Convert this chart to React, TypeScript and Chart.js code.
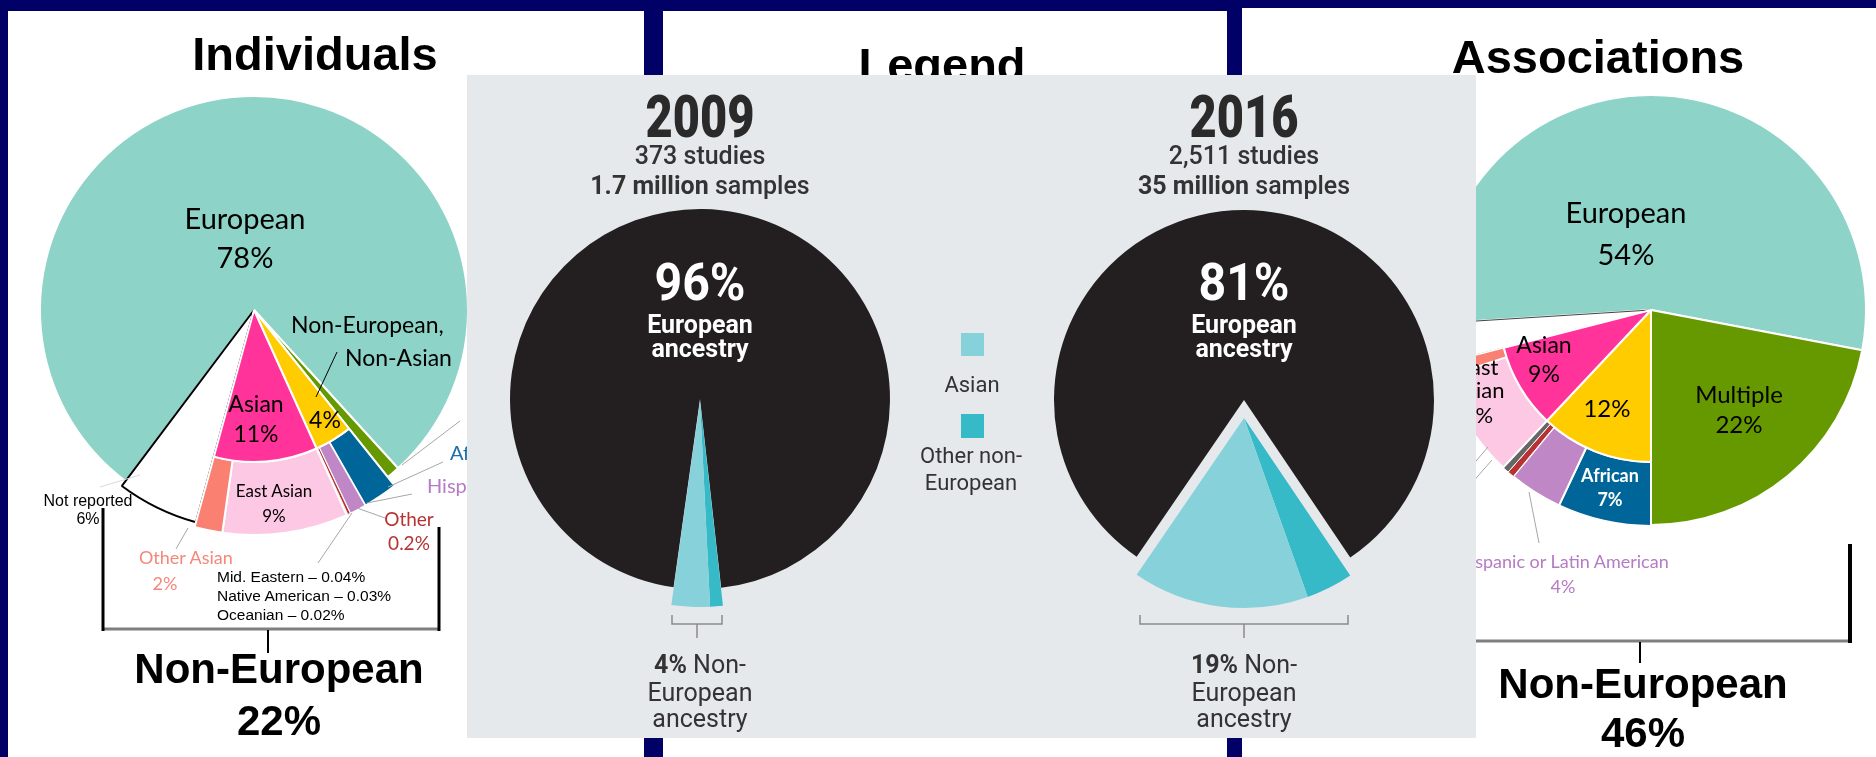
import React, { useEffect, useRef } from "react";
import { Chart, registerables } from "chart.js";
Chart.register(...registerables);

// ---------------- data ----------------
// Individuals (share of GWAS participants, %)
const indGroupLabels = ["European", "Multiple", "Non-European, Non-Asian", "Asian", "Not reported"];
const indGroupValues = [78, 1, 4, 11, 6];
const indSubLabels = ["European", "Multiple", "African", "Hispanic", "Other", "Mid. Eastern", "Native American", "Oceanian", "East Asian", "Other Asian", "Not reported"];
const indSubValues = [78, 1, 2.5, 1.2, 0.2, 0.04, 0.03, 0.02, 9, 2, 6];

// Associations (share of GWAS associations, %)
const assocGroupLabels = ["European", "Multiple", "Non-European, Non-Asian", "Asian", "Not reported"];
const assocGroupValues = [54, 22, 12, 9, 3];
const assocSubLabels = ["European", "Multiple", "African", "Hispanic or Latin American", "Other", "Other (minor)", "East Asian", "Other Asian", "Not reported"];
const assocSubValues = [54, 22, 7, 4, 0.5, 0.5, 8, 1, 3];

// Legend figure: 2009 vs 2016
const legendLabels = ["European", "Other non-European", "Asian"];
const values2009 = [96, 1, 3];
const values2016 = [81, 4, 15];

// ---------------- styles ----------------
const TR = "rgba(0,0,0,0)";
const TEAL = "#8dd3c7";
const GREEN = "#669900";
const YELLOW = "#ffcc00";
const PINK = "#ff3399";
const LPINK = "#fcc8e3";
const SALMON = "#fa8072";
const BLUE = "#006699";
const PURPLE = "#bf87c6";
const RED = "#b83232";
const BLACKPIE = "#231f20";
const LTEAL = "#86d1da";
const DTEAL = "#36bac7";

type LayerProps = {
  cx: number;
  cy: number;
  size: number;
  labels: string[];
  data: number[];
  colors: string[];
  borderColors: string[];
  borderWidths: number[];
  radius: number;
  inner?: number;
  rotation: number;
};

function PieLayer(p: LayerProps) {
  const ref = useRef<HTMLCanvasElement>(null);
  useEffect(() => {
    const chart = new Chart(ref.current as HTMLCanvasElement, {
      type: "doughnut",
      data: {
        labels: p.labels,
        datasets: [
          {
            data: p.data,
            backgroundColor: p.colors,
            borderColor: p.borderColors,
            borderWidth: p.borderWidths,
            hoverOffset: 0,
          } as any,
        ],
      },
      options: {
        responsive: false,
        animation: false,
        events: [],
        rotation: p.rotation,
        radius: p.radius,
        cutout: p.inner ? `${(p.inner / p.radius) * 100}%` : 0,
        layout: { padding: 0 },
        plugins: { legend: { display: false }, tooltip: { enabled: false } },
      } as any,
    });
    return () => chart.destroy();
  }, []);
  return (
    <canvas
      ref={ref}
      width={p.size}
      height={p.size}
      style={{ position: "absolute", left: p.cx - p.size / 2, top: p.cy - p.size / 2, width: p.size, height: p.size }}
    />
  );
}

const ARIAL = "'Liberation Sans', Arial, sans-serif";
const LATO = "Lato, 'Open Sans', sans-serif";
const ROBOTO = "Roboto, 'Liberation Sans', sans-serif";

const svgStyle: React.CSSProperties = { position: "absolute", left: 0, top: 0 };

function Txt(props: {
  x: number;
  y: number;
  size: number;
  fam?: string;
  fill?: string;
  weight?: string | number;
  anchor?: "start" | "middle" | "end";
  len?: number;
  children: React.ReactNode;
}) {
  const extra: any = {};
  if (props.len) {
    extra.textLength = props.len;
    extra.lengthAdjust = "spacingAndGlyphs";
  }
  return (
    <text
      x={props.x}
      y={props.y}
      fontSize={props.size}
      fontFamily={props.fam || LATO}
      fill={props.fill || "#000"}
      fontWeight={props.weight || "normal"}
      textAnchor={props.anchor || "middle"}
      {...extra}
    >
      {props.children}
    </text>
  );
}

export default function App() {
  const indC = { cx: 254, cy: 310 };
  const asC = { cx: 1651, cy: 310 };
  const indRot = 216.9;
  const asRot = 266.4;

  return (
    <div style={{ position: "absolute", left: 0, top: 0, width: 1876, height: 757, overflow: "hidden", background: "#000066" }}>
      {/* panels */}
      <svg width={1876} height={757} style={svgStyle}>
        <rect x={8} y={11} width={636} height={746} fill="#fff" />
        <rect x={663} y={11} width={564} height={746} fill="#fff" />
        <rect x={1242} y={8} width={634} height={749} fill="#fff" />
      </svg>

      {/* Individuals pie layers */}
      <PieLayer {...indC} size={470} labels={indGroupLabels} data={indGroupValues} rotation={indRot} radius={214}
        colors={[TEAL, GREEN, TR, TR, TR]} borderColors={["#fff", "#fff", TR, TR, TR]} borderWidths={[2, 2, 0, 0, 0]} />
      <PieLayer {...indC} size={470} labels={indGroupLabels} data={indGroupValues} rotation={indRot} radius={220}
        colors={[TR, TR, TR, TR, "#fff"]} borderColors={[TR, TR, TR, TR, "#000"]} borderWidths={[0, 0, 0, 0, 2]} />
      <PieLayer {...indC} size={470} labels={indSubLabels} data={indSubValues} rotation={indRot} radius={225} inner={152}
        colors={[TR, TR, BLUE, PURPLE, RED, "#333", "#333", "#333", LPINK, SALMON, TR]}
        borderColors={[TR, TR, "#fff", "#fff", "#fff", "#fff", "#fff", "#fff", "#fff", "#fff", TR]}
        borderWidths={[0, 0, 2, 1.5, 1, 0.6, 0.6, 0.6, 2, 2, 0]} />
      <PieLayer {...indC} size={470} labels={indGroupLabels} data={indGroupValues} rotation={indRot} radius={152}
        colors={[TR, TR, YELLOW, PINK, TR]} borderColors={[TR, TR, "#fff", "#fff", TR]} borderWidths={[0, 0, 2, 2, 0]} />

      {/* Associations pie layers */}
      <PieLayer {...asC} size={450} labels={assocGroupLabels} data={assocGroupValues} rotation={asRot} radius={215}
        colors={[TEAL, GREEN, TR, TR, TR]} borderColors={["#fff", "#fff", TR, TR, TR]} borderWidths={[2, 2, 0, 0, 0]} />
      <PieLayer {...asC} size={450} labels={assocGroupLabels} data={assocGroupValues} rotation={asRot} radius={215}
        colors={[TR, TR, TR, TR, "#fff"]} borderColors={[TR, TR, TR, TR, "#444"]} borderWidths={[0, 0, 0, 0, 1.2]} />
      <PieLayer {...asC} size={450} labels={assocSubLabels} data={assocSubValues} rotation={asRot} radius={216} inner={152}
        colors={[TR, TR, BLUE, PURPLE, RED, "#666", LPINK, SALMON, TR]}
        borderColors={[TR, TR, "#fff", "#fff", "#fff", "#fff", "#fff", "#fff", TR]}
        borderWidths={[0, 0, 2, 2, 1, 1, 2, 1.5, 0]} />
      <PieLayer {...asC} size={450} labels={assocGroupLabels} data={assocGroupValues} rotation={asRot} radius={152}
        colors={[TR, TR, YELLOW, PINK, TR]} borderColors={[TR, TR, "#fff", "#fff", TR]} borderWidths={[0, 0, 2, 2, 0]} />

      {/* annotations of left and right panels */}
      <svg width={1876} height={757} style={svgStyle}>
        {/* titles */}
        <Txt x={315} y={70} size={47} fam={ARIAL} weight="bold">Individuals</Txt>
        <Txt x={942} y={81} size={47} fam={ARIAL} weight="bold">Legend</Txt>
        <Txt x={1598} y={73} size={47} fam={ARIAL} weight="bold">Associations</Txt>

        {/* Individuals labels */}
        <Txt x={245} y={229} size={29}>European</Txt>
        <Txt x={245} y={268} size={29}>78%</Txt>
        <Txt x={291} y={333} size={23} anchor="start">Non-European,</Txt>
        <Txt x={345} y={366} size={23} anchor="start">Non-Asian</Txt>
        <line x1={337} y1={352} x2={316} y2={397} stroke="#000" strokeWidth={1} />
        <Txt x={256} y={412} size={23}>Asian</Txt>
        <Txt x={256} y={442} size={23}>11%</Txt>
        <Txt x={325} y={428} size={23}>4%</Txt>
        <Txt x={274} y={497} size={17}>East Asian</Txt>
        <Txt x={274} y={522} size={17}>9%</Txt>
        <Txt x={88} y={506} size={16} fam={ARIAL}>Not reported</Txt>
        <Txt x={88} y={524} size={16} fam={ARIAL}>6%</Txt>
        <Txt x={139} y={564} size={18} anchor="start" fill="#f4877a">Other Asian</Txt>
        <Txt x={165} y={590} size={18} fill="#f4877a">2%</Txt>
        <Txt x={409} y={526} size={19} fill={RED}>Other</Txt>
        <Txt x={409} y={550} size={19} fill={RED}>0.2%</Txt>
        <Txt x={217} y={582} size={15.5} fam={ARIAL} anchor="start">Mid. Eastern – 0.04%</Txt>
        <Txt x={217} y={601} size={15.5} fam={ARIAL} anchor="start">Native American – 0.03%</Txt>
        <Txt x={217} y={620} size={15.5} fam={ARIAL} anchor="start">Oceanian – 0.02%</Txt>
        <Txt x={450} y={460} size={20} anchor="start" fill="#1d6fa5">African</Txt>
        <Txt x={427} y={493} size={20} anchor="start" fill="#b57bc4">Hispanic</Txt>
        <g stroke="#a6a6a6" strokeWidth={1}>
          <line x1={460} y1={421} x2={402} y2={465} />
          <line x1={443} y1={462} x2={388} y2={487} />
          <line x1={412} y1={494} x2={367} y2={503} />
          <line x1={385} y1={518} x2={357} y2={508} />
          <line x1={352} y1={513} x2={318} y2={563} />
          <line x1={188} y1={528} x2={176} y2={549} />
          <line x1={100} y1={487} x2={140} y2={475} stroke="#d9d9d9" />
        </g>
        {/* left bracket */}
        <line x1={102} y1={629} x2={440} y2={629} stroke="#7f7f7f" strokeWidth={3} />
        <line x1={103} y1={508} x2={103} y2={631} stroke="#000" strokeWidth={3} />
        <line x1={439} y1={527} x2={439} y2={631} stroke="#000" strokeWidth={3} />
        <line x1={268} y1={630} x2={268} y2={653} stroke="#000" strokeWidth={2} />
        <Txt x={279} y={683} size={42} fam={ARIAL} weight="bold">Non-European</Txt>
        <Txt x={279} y={735} size={42} fam={ARIAL} weight="bold">22%</Txt>

        {/* Associations labels */}
        <Txt x={1626} y={223} size={29}>European</Txt>
        <Txt x={1626} y={265} size={29}>54%</Txt>
        <Txt x={1544} y={353} size={23}>Asian</Txt>
        <Txt x={1544} y={382} size={23}>9%</Txt>
        <Txt x={1607} y={417} size={24}>12%</Txt>
        <Txt x={1739} y={403} size={24}>Multiple</Txt>
        <Txt x={1739} y={433} size={24}>22%</Txt>
        <Txt x={1610} y={482} size={18} weight="bold" fill="#fff">African</Txt>
        <Txt x={1610} y={506} size={18} weight="bold" fill="#fff">7%</Txt>
        <Txt x={1478} y={375} size={22}>East</Txt>
        <Txt x={1478} y={398} size={22}>Asian</Txt>
        <Txt x={1478} y={423} size={22}>8%</Txt>
        <Txt x={1563} y={568} size={18} fill="#b57bc4">Hispanic or Latin American</Txt>
        <Txt x={1563} y={593} size={18} fill="#b57bc4">4%</Txt>
        <g stroke="#a6a6a6" strokeWidth={1}>
          <line x1={1529} y1={492} x2={1539} y2={543} />
          <line x1={1488} y1={447} x2={1470} y2={468} />
          <line x1={1492} y1={460} x2={1470} y2={485} />
        </g>
        {/* right bracket */}
        <line x1={1460} y1={641} x2={1852} y2={641} stroke="#7f7f7f" strokeWidth={3} />
        <line x1={1850} y1={544} x2={1850} y2={643} stroke="#000" strokeWidth={4} />
        <line x1={1640} y1={642} x2={1640} y2={663} stroke="#000" strokeWidth={2} />
        <Txt x={1643} y={698} size={42} fam={ARIAL} weight="bold">Non-European</Txt>
        <Txt x={1643} y={747} size={42} fam={ARIAL} weight="bold">46%</Txt>
      </svg>

      {/* grey legend figure */}
      <div style={{ position: "absolute", left: 467, top: 75, width: 1009, height: 663, background: "#e6e9ec" }} />

      <PieLayer cx={700} cy={399} size={440} labels={legendLabels} data={values2009} rotation={188} radius={190}
        colors={[BLACKPIE, TR, TR]} borderColors={[TR, TR, TR]} borderWidths={[0, 0, 0]} />
      <PieLayer cx={700} cy={401} size={440} labels={legendLabels} data={values2009} rotation={188} radius={206}
        colors={[TR, DTEAL, LTEAL]} borderColors={[TR, TR, TR]} borderWidths={[0, 0, 0]} />
      <PieLayer cx={1244} cy={400} size={420} labels={legendLabels} data={values2016} rotation={214.4} radius={190}
        colors={[BLACKPIE, TR, TR]} borderColors={[TR, TR, TR]} borderWidths={[0, 0, 0]} />
      <PieLayer cx={1244} cy={418} size={420} labels={legendLabels} data={values2016} rotation={214.4} radius={190}
        colors={[TR, DTEAL, LTEAL]} borderColors={[TR, TR, TR]} borderWidths={[0, 0, 0]} />

      <svg width={1876} height={757} style={svgStyle}>
        {/* 2009 */}
        <Txt x={700} y={137} size={60} fam={ROBOTO} weight={900} fill="#2a2a2a" len={109}>2009</Txt>
        <Txt x={700} y={164} size={25} fam={ROBOTO} weight={500} fill="#333">373 studies</Txt>
        <text x={700} y={194} fontSize={25} fontFamily={ROBOTO} fontWeight={500} fill="#333" textAnchor="middle">
          <tspan fontWeight="bold">1.7 million</tspan> samples
        </text>
        <Txt x={700} y={300} size={52} fam={ROBOTO} weight="bold" fill="#fff" len={91}>96%</Txt>
        <Txt x={700} y={333} size={25} fam={ROBOTO} weight="bold" fill="#fff">European</Txt>
        <Txt x={700} y={357} size={25} fam={ROBOTO} weight="bold" fill="#fff">ancestry</Txt>
        <path d="M672 615 V624 H722 V615 M697 624 V638" stroke="#8a8a8a" strokeWidth={1.5} fill="none" />
        <text x={700} y={673} fontSize={25} fontFamily={ROBOTO} fill="#333" textAnchor="middle">
          <tspan fontWeight="bold">4%</tspan> Non-
        </text>
        <Txt x={700} y={701} size={25} fam={ROBOTO} fill="#333">European</Txt>
        <Txt x={700} y={727} size={25} fam={ROBOTO} fill="#333">ancestry</Txt>

        {/* legend keys */}
        <rect x={961} y={333} width={23} height={23} fill={LTEAL} />
        <Txt x={972} y={392} size={22} fam={ROBOTO} fill="#333">Asian</Txt>
        <rect x={961} y={414} width={23} height={24} fill={DTEAL} />
        <Txt x={971} y={463} size={22} fam={ROBOTO} fill="#333">Other non-</Txt>
        <Txt x={971} y={490} size={22} fam={ROBOTO} fill="#333">European</Txt>

        {/* 2016 */}
        <Txt x={1244} y={137} size={60} fam={ROBOTO} weight={900} fill="#2a2a2a" len={109}>2016</Txt>
        <Txt x={1244} y={164} size={25} fam={ROBOTO} weight={500} fill="#333">2,511 studies</Txt>
        <text x={1244} y={194} fontSize={25} fontFamily={ROBOTO} fontWeight={500} fill="#333" textAnchor="middle">
          <tspan fontWeight="bold">35 million</tspan> samples
        </text>
        <Txt x={1244} y={300} size={52} fam={ROBOTO} weight="bold" fill="#fff" len={91}>81%</Txt>
        <Txt x={1244} y={333} size={25} fam={ROBOTO} weight="bold" fill="#fff">European</Txt>
        <Txt x={1244} y={357} size={25} fam={ROBOTO} weight="bold" fill="#fff">ancestry</Txt>
        <path d="M1140 615 V624 H1348 V615 M1244 624 V638" stroke="#8a8a8a" strokeWidth={1.5} fill="none" />
        <text x={1244} y={673} fontSize={25} fontFamily={ROBOTO} fill="#333" textAnchor="middle">
          <tspan fontWeight="bold">19%</tspan> Non-
        </text>
        <Txt x={1244} y={701} size={25} fam={ROBOTO} fill="#333">European</Txt>
        <Txt x={1244} y={727} size={25} fam={ROBOTO} fill="#333">ancestry</Txt>
      </svg>
    </div>
  );
}
